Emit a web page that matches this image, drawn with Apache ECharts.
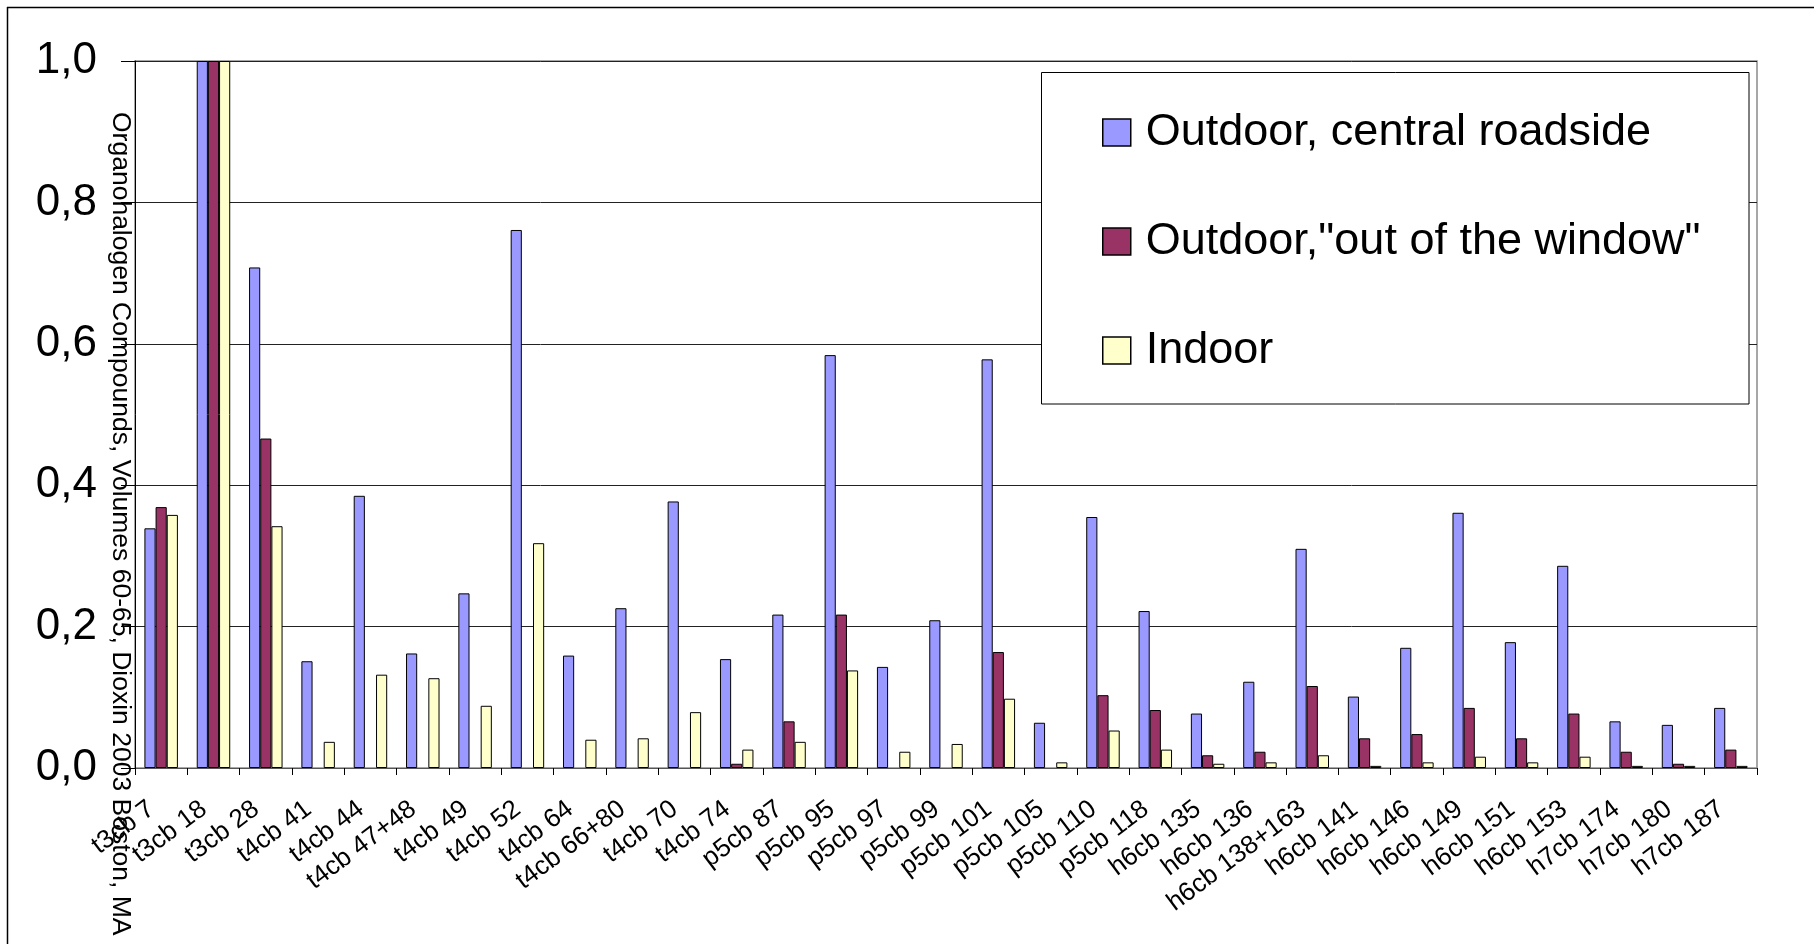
<!DOCTYPE html>
<html>
<head>
<meta charset="utf-8">
<title>Organohalogen Compounds – PCB congeners, Boston</title>
<script src="https://cdn.jsdelivr.net/npm/echarts@6/dist/echarts.min.js"></script>
<style>
  html, body { margin: 0; padding: 0; background: #fff; }
  #chart { width: 1814px; height: 944px; }
</style>
</head>
<body>
<div id="chart"></div>
<script>
// PCB congeners (relative concentrations, normalised to t3cb 18)
const categories = [
  't3cb 7', 't3cb 18', 't3cb 28', 't4cb 41', 't4cb 44', 't4cb 47+48', 't4cb 49',
  't4cb 52', 't4cb 64', 't4cb 66+80', 't4cb 70', 't4cb 74', 'p5cb 87', 'p5cb 95',
  'p5cb 97', 'p5cb 99', 'p5cb 101', 'p5cb 105', 'p5cb 110', 'p5cb 118', 'h6cb 135',
  'h6cb 136', 'h6cb 138+163', 'h6cb 141', 'h6cb 146', 'h6cb 149', 'h6cb 151',
  'h6cb 153', 'h7cb 174', 'h7cb 180', 'h7cb 187'
];

const seriesNames = ['Outdoor, central roadside', 'Outdoor,"out of the window"', 'Indoor'];

const roadside = [
  0.339, 1.0, 0.708, 0.151, 0.385, 0.162, 0.247, 0.761, 0.159, 0.226, 0.377, 0.154,
  0.217, 0.584, 0.143, 0.209, 0.578, 0.064, 0.355, 0.222,
  0.077, 0.122, 0.310, 0.101, 0.170, 0.361, 0.178, 0.286,
  0.066, 0.061, 0.085
];

const outOfWindow = [
  0.369, 1.0, 0.466, null, null, null, null, null, null, null, null, 0.006,
  0.066, 0.217, null, null, 0.164, null, 0.103, 0.082,
  0.018, 0.023, 0.116, 0.042, 0.048, 0.085, 0.042, 0.077,
  0.023, 0.006, 0.026
];

const indoor = [
  0.358, 1.0, 0.342, 0.037, 0.132, 0.127, 0.088, 0.318, 0.040, 0.042, 0.079, 0.026,
  0.037, 0.138, 0.023, 0.034, 0.098, 0.008, 0.053, 0.026,
  0.006, 0.008, 0.018, 0.003, 0.008, 0.016, 0.008, 0.016,
  0.003, 0.003, 0.003
];

const yTickLabels = ['0,0', '0,2', '0,4', '0,6', '0,8', '1,0'];

const yTitle = 'Organohalogen Compounds, Volumes 60-65, Dioxin 2003 Boston, MA';

const FONT = '"Liberation Sans", Arial, sans-serif';
const colors = ['#9999FF', '#993366', '#FFFFCC'];

const chart = echarts.init(document.getElementById('chart'), null, { renderer: 'canvas' });

function barSeries(name, data, color) {
  return {
    name: name,
    type: 'bar',
    data: data,
    barGap: '0%',
    barCategoryGap: '36%',
    itemStyle: { color: color, borderColor: '#000', borderWidth: 1 },
    emphasis: { disabled: true },
    animation: false
  };
}

chart.setOption({
  animation: false,
  backgroundColor: '#fff',
  textStyle: { fontFamily: FONT },
  grid: {
    left: 135, right: 57, top: 61, bottom: 176,
    show: true, borderColor: '#8a8a8a', borderWidth: 1.5, backgroundColor: 'transparent'
  },
  legend: {
    orient: 'vertical',
    left: 1102, top: 110,
    padding: 0,
    itemWidth: 28, itemHeight: 27, itemGap: 64,
    icon: 'rect',
    z: 10,
    selectedMode: false,
    data: seriesNames,
    itemStyle: { borderColor: '#000', borderWidth: 1.5 },
    textStyle: {
      fontFamily: FONT, fontSize: 45, color: '#000',
      padding: [0, 0, 0, 10]
    }
  },
  xAxis: {
    type: 'category',
    data: categories,
    axisLine: { lineStyle: { color: '#555', width: 1 } },
    axisTick: { show: true, length: 7, lineStyle: { color: '#000' } },
    axisLabel: {
      interval: 0, rotate: 37, margin: 31,
      padding: [0, 12, 0, 0],
      fontFamily: FONT, fontSize: 26, color: '#000'
    },
    splitLine: { show: false }
  },
  yAxis: {
    type: 'value',
    min: 0, max: 1, interval: 0.2,
    axisLine: { show: true, lineStyle: { color: '#000', width: 1 } },
    axisTick: { show: true, length: 14, lineStyle: { color: '#000' } },
    axisLabel: {
      margin: 38, fontFamily: FONT, fontSize: 44, color: '#000',
      formatter: function (v) { return yTickLabels[Math.round(v / 0.2)]; }
    },
    splitLine: { show: true, lineStyle: { color: '#222', width: 1 } }
  },
  graphic: [
    // outer chart frame (top and left edges)
    { type: 'line', shape: { x1: 7, y1: 7.5, x2: 1814, y2: 7.5 }, style: { stroke: '#000', lineWidth: 1.5 }, silent: true },
    { type: 'line', shape: { x1: 7.5, y1: 7, x2: 7.5, y2: 944 }, style: { stroke: '#000', lineWidth: 1.5 }, silent: true },
    // legend box
    {
      type: 'rect', z: 5,
      shape: { x: 1041.5, y: 72.5, width: 707.5, height: 331.5 },
      style: { fill: '#fff', stroke: '#000', lineWidth: 1 },
      silent: true
    },
    // rotated y-axis title, reading top to bottom
    {
      type: 'text', z: 6,
      x: 120, y: 112,
      rotation: -Math.PI / 2,
      style: {
        text: yTitle,
        font: '26.5px ' + FONT,
        fill: '#000',
        textAlign: 'left',
        textVerticalAlign: 'middle'
      },
      silent: true
    }
  ],
  series: [
    barSeries(seriesNames[0], roadside, colors[0]),
    barSeries(seriesNames[1], outOfWindow, colors[1]),
    barSeries(seriesNames[2], indoor, colors[2])
  ]
});
</script>
</body>
</html>
